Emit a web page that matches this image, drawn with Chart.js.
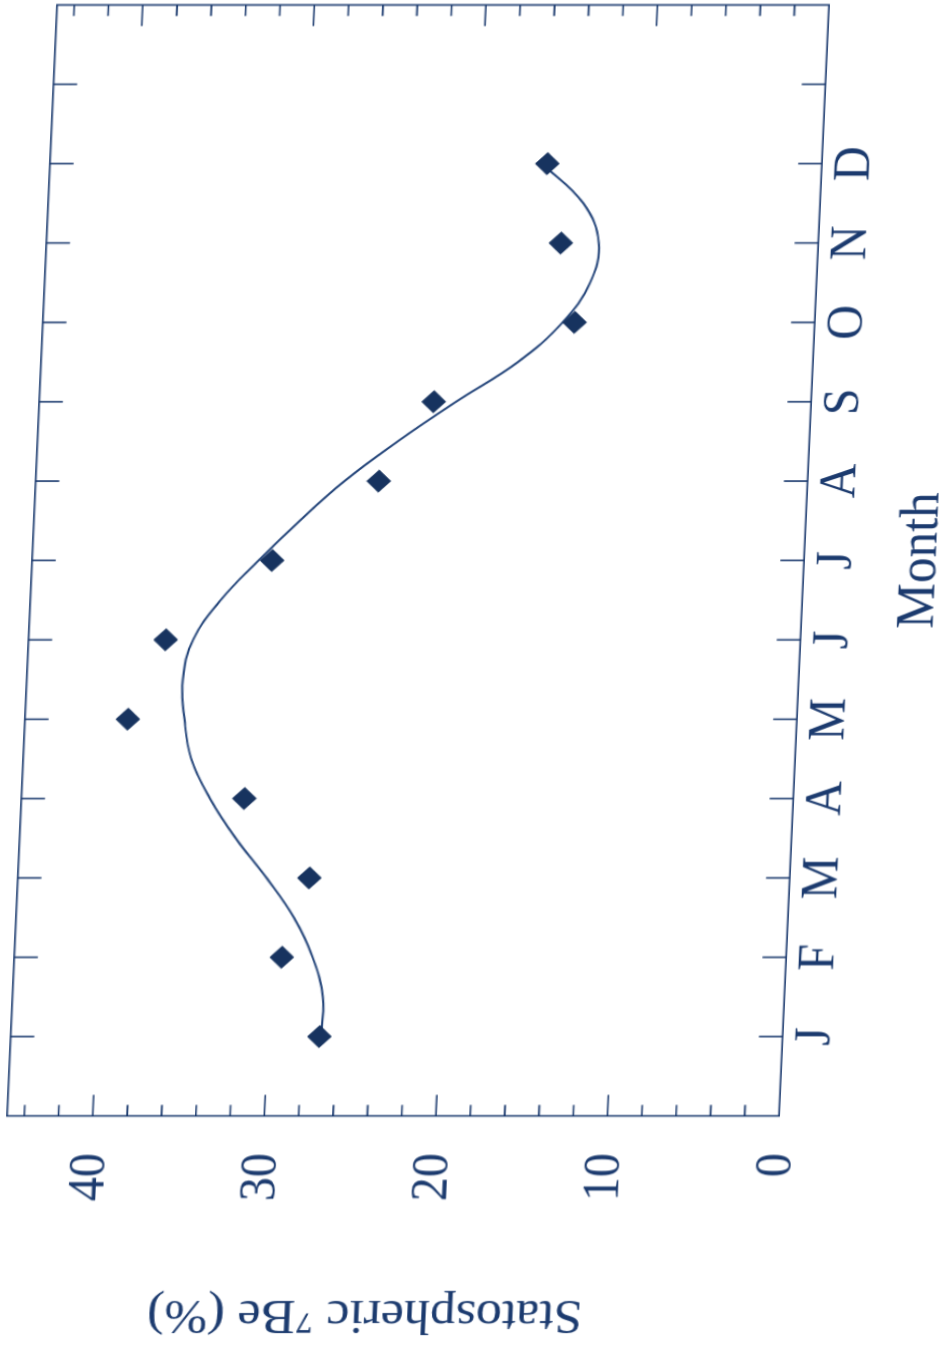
<!DOCTYPE html>
<html>
<head>
<meta charset="utf-8">
<script src="https://cdn.jsdelivr.net/npm/chart.js@4"></script>
<style>
  html, body { margin: 0; padding: 0; background: #fff; overflow: hidden; }
  #wrap { position: absolute; left: 0; top: 0; width: 942px; height: 1346px; overflow: hidden; }
  #grafico { position: absolute; left: 0; top: 0; transform-origin: 0 0; }
</style>
</head>
<body>
<div id="wrap"><canvas id="grafico" width="1351" height="942"></canvas></div>
<script>
// Datos
const monthLabels = ['J', 'F', 'M', 'A', 'M', 'J', 'J', 'A', 'S', 'O', 'N', 'D'];
const monthIndex = [1, 2, 3, 4, 5, 6, 7, 8, 9, 10, 11, 12];
const be7Percent = [27, 29.4, 28, 32, 39, 37, 31, 25, 22, 14, 15, 16];

// Curva ajustada (leida cada medio mes)
const fitMonths = [1, 1.5, 2, 2.5, 3, 3.5, 4, 4.5, 5, 5.5, 6, 6.5, 7, 7.5, 8, 8.5, 9, 9.5, 10, 10.5, 11, 11.5, 12];
const fitValues = [26.9, 26.9, 27.6, 28.8, 30.5, 32.4, 34.0, 35.2, 35.7, 35.9, 35.4, 33.9, 31.8, 29.5, 27.0, 24.0, 20.7, 17.2, 14.7, 13.2, 12.8, 13.8, 16.3];

const yTickValues = [0, 10, 20, 30, 40];

const navy = '#1b3a6e';
const serif = "'Liberation Serif', 'DejaVu Serif', serif";

// Marcas hacia adentro y marco del grafico
const marcoPlugin = {
    id: 'marco',
    afterDraw(chart) {
        const { ctx, chartArea: { left, right, top, bottom }, scales: { x, y } } = chart;
        ctx.save();
        ctx.strokeStyle = navy;
        ctx.lineWidth = 1.6;
        ctx.strokeRect(left, top, right - left, bottom - top);
        ctx.beginPath();
        for (let m = 1; m <= 13; m++) {
            const px = x.getPixelForValue(m);
            ctx.moveTo(px, bottom); ctx.lineTo(px, bottom - 22);
            ctx.moveTo(px, top); ctx.lineTo(px, top + 22);
        }
        for (let v = 2; v < 45; v += 2) {
            const py = y.getPixelForValue(v);
            const len = v % 10 === 0 ? 21 : 11;
            ctx.moveTo(left, py); ctx.lineTo(left + len, py);
            ctx.moveTo(right, py); ctx.lineTo(right - len, py);
        }
        ctx.stroke();
        ctx.restore();
    }
};

const chart = new Chart(document.getElementById('grafico'), {
    type: 'scatter',
    data: {
        datasets: [{
            label: 'Datos',
            data: monthIndex.map((m, i) => ({ x: m, y: be7Percent[i] })),
            pointStyle: 'rectRot',
            pointRadius: 11,
            pointBackgroundColor: '#17335f',
            pointBorderColor: '#17335f',
            pointBorderWidth: 1,
            showLine: false
        }, {
            label: 'Ajuste',
            data: fitMonths.map((m, i) => ({ x: m, y: fitValues[i] })),
            showLine: true,
            borderColor: '#24457a',
            borderWidth: 2,
            pointRadius: 0,
            tension: 0.4,
            fill: false
        }]
    },
    options: {
        responsive: false,
        animation: false,
        devicePixelRatio: 1,
        layout: { padding: { left: 1, right: 6, top: 8, bottom: 18 } },
        plugins: { legend: { display: false }, tooltip: { enabled: false } },
        scales: {
            x: {
                type: 'linear',
                min: 0,
                max: 14,
                afterBuildTicks: s => { s.ticks = monthIndex.map(v => ({ value: v })); },
                grid: { display: false, drawTicks: false },
                border: { display: false },
                ticks: {
                    padding: 2,
                    maxRotation: 0,
                    color: navy,
                    font: { family: serif, size: 48 },
                    callback: v => monthLabels[v - 1]
                },
                title: {
                    display: true,
                    text: 'Month',
                    color: navy,
                    font: { family: serif, size: 51 },
                    padding: { top: 16, bottom: 4 }
                }
            },
            y: {
                min: 0,
                max: 45,
                afterBuildTicks: s => { s.ticks = yTickValues.map(v => ({ value: v })); },
                grid: { display: false, drawTicks: false },
                border: { display: false },
                ticks: {
                    padding: 37,
                    color: navy,
                    font: { family: serif, size: 48 }
                },
                title: {
                    display: true,
                    text: '   Statospheric \u2077Be (%)',
                    color: navy,
                    font: { family: serif, size: 48 },
                    padding: { top: 4, bottom: 46 }
                }
            }
        }
    },
    plugins: [marcoPlugin]
});

// Girar y sesgar el lienzo para que coincida con la figura escaneada
const { left: L, right: R, top: T, bottom: B } = chart.chartArea;
const p0 = [7, 1116], p1 = [57, 5], p2 = [779, 1116];
const a = (p1[0] - p0[0]) / (R - L), b = (p1[1] - p0[1]) / (R - L);
const c = (p2[0] - p0[0]) / (B - T), d = (p2[1] - p0[1]) / (B - T);
const e = p0[0] - a * L - c * T, f = p0[1] - b * L - d * T;
document.getElementById('grafico').style.transform = `matrix(${a},${b},${c},${d},${e},${f})`;
</script>
</body>
</html>
